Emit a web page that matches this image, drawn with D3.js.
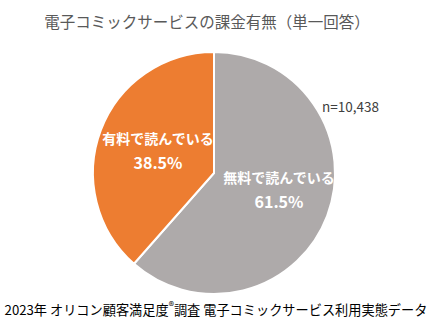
<!DOCTYPE html>
<html>
<head>
<meta charset="utf-8">
<script src="https://cdn.jsdelivr.net/npm/d3@7"></script>
<style>
  html, body { margin: 0; padding: 0; background: #fff; }
  svg { display: block; font-family: "Noto Sans CJK JP", "Noto Sans", sans-serif; }
</style>
</head>
<body>
<svg id="chart" width="436" height="329"></svg>
<script>
// 電子コミックサービスの課金有無
const categories = ["無料で読んでいる", "有料で読んでいる"];
const shares = [61.5, 38.5];
const colors = ["#AEAAAA", "#ED7D31"];
const title = "電子コミックサービスの課金有無（単一回答）";
const sampleNote = "n=10,438";
const sourceParts = ["2023年 オリコン顧客満足度", "®", "調査 電子コミックサービス利用実態データ"];

const svg = d3.select("#chart");
const cx = 214, cy = 173, radius = 121;

svg.append("text")
  .attr("x", 207).attr("y", 28)
  .attr("text-anchor", "middle")
  .attr("font-size", 15.5)
  .attr("fill", "#595959")
  .text(title);

const pie = d3.pie().sort(null).value(d => d.v);
const arcs = pie(categories.map((c, i) => ({ c, v: shares[i], col: colors[i] })));
const arc = d3.arc().innerRadius(0).outerRadius(radius);

const g = svg.append("g").attr("transform", `translate(${cx},${cy})`);
g.selectAll("path").data(arcs).join("path")
  .attr("d", arc)
  .attr("fill", d => d.data.col)
  .attr("stroke", "#fff")
  .attr("stroke-width", 2)
  .attr("stroke-linejoin", "round");

// slice labels
const labelPos = [[65, 10], [-56, -29]];
arcs.forEach((d, i) => {
  const [lx, ly] = labelPos[i];
  g.append("text")
    .attr("x", lx).attr("y", ly)
    .attr("text-anchor", "middle")
    .attr("font-size", 14).attr("font-weight", "bold")
    .attr("fill", "#fff")
    .text(d.data.c);
  g.append("text")
    .attr("x", lx).attr("y", ly + 25)
    .attr("text-anchor", "middle")
    .attr("font-size", 16).attr("font-weight", "bold")
    .attr("fill", "#fff")
    .text(d3.format(".1f")(d.data.v) + "%");
});

svg.append("text")
  .attr("x", 322).attr("y", 112)
  .attr("font-size", 13.5)
  .attr("fill", "#404040")
  .text(sampleNote);

const src = svg.append("text")
  .attr("x", 216).attr("y", 315)
  .attr("text-anchor", "middle")
  .attr("font-size", 13.2)
  .attr("fill", "#000");
src.append("tspan").text(sourceParts[0]);
src.append("tspan").attr("dy", -5).attr("font-size", 11).text(sourceParts[1]);
src.append("tspan").attr("dy", 5).text(sourceParts[2]);
</script>
</body>
</html>
